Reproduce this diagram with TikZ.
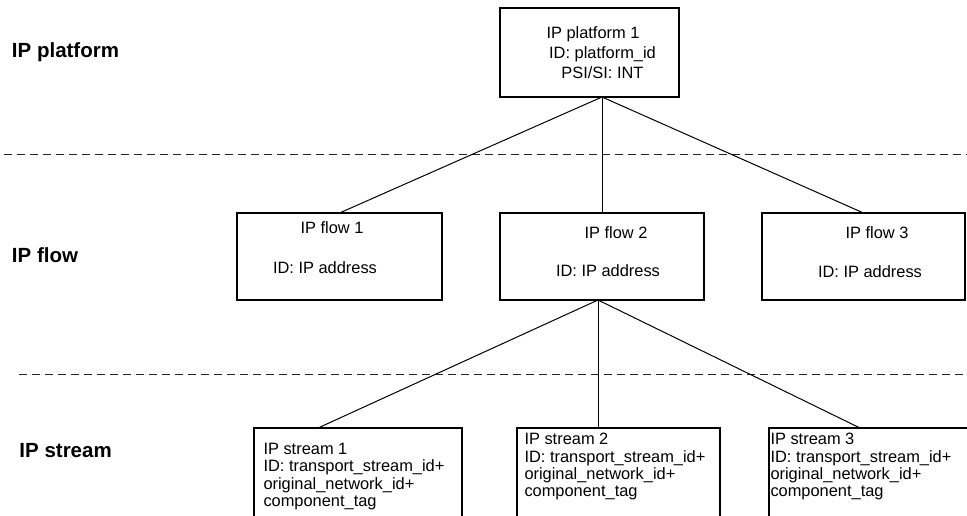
\documentclass[tikz,border=0pt]{standalone}
\usepackage{fontspec}
\setmainfont{Liberation Sans}
\begin{document}
\begin{tikzpicture}[x=1pt,y=-1pt,
  box/.style={draw=black, line width=1.2pt, inner sep=0pt, outer sep=0pt, anchor=north west},
  conn/.style={draw=black, line width=1pt},
  sepline/.style={draw=black!85, line width=0.9pt, dash pattern=on 8pt off 5pt},
  txt/.style={inner sep=0pt, outer sep=0pt, font=\fontsize{16.4}{20}\selectfont},
  stxt/.style={inner sep=0pt, outer sep=0pt, align=left, anchor=north west, font=\fontsize{16.4}{17.3}\selectfont},
  lvl/.style={inner sep=0pt, outer sep=0pt, anchor=base west, font=\fontsize{20.5}{24}\selectfont\bfseries}]
\useasboundingbox (0,0) rectangle (967,515);
\clip (0,0) rectangle (967,515);

% level separators
\draw[sepline] (4,154) -- (967,154);
\draw[sepline] (19,374) -- (967,374);

% level labels
\node[lvl] (lplat) at (12,57) {IP platform};
\node[lvl] (lflow) at (12,262) {IP flow};
\node[lvl] (lstream) at (19.5,457.5) {IP stream};

% boxes
\node[box, minimum width=179pt, minimum height=89pt] (plat) at (500,8) {};
\node[box, minimum width=205pt, minimum height=87pt] (f1) at (237,213) {};
\node[box, minimum width=204pt, minimum height=87pt] (f2) at (500,213) {};
\node[box, minimum width=203pt, minimum height=87pt] (f3) at (762,213) {};
\node[box, minimum width=208pt, minimum height=120pt] (s1) at (254,428) {};
\node[box, minimum width=203pt, minimum height=120pt] (s2) at (517,428) {};
\node[box, minimum width=220pt, minimum height=120pt] (s3) at (769,428) {};

% texts
\node[txt, align=center, anchor=north] (ptext) at (602.5,26.7) {IP platform 1\hspace*{19pt}\\ID: platform\_id\\PSI/SI: INT};
\node[txt] (f1a) at (332,227.5) {IP flow 1};
\node[txt] (f1b) at (325,268) {ID: IP address};
\node[txt] (f2a) at (616,233) {IP flow 2};
\node[txt] (f2b) at (608,271) {ID: IP address};
\node[txt] (f3a) at (877,233) {IP flow 3};
\node[txt] (f3b) at (870,272) {ID: IP address};
\node[stxt] (s1t) at (263.5,443.3) {IP stream 1\\ID: transport\_stream\_id+\\original\_network\_id+\\component\_tag};
\node[stxt] (s2t) at (524.5,433.3) {IP stream 2\\ID: transport\_stream\_id+\\original\_network\_id+\\component\_tag};
\node[stxt] (s3t) at (770.5,433.3) {IP stream 3\\ID: transport\_stream\_id+\\original\_network\_id+\\component\_tag};

% connectors
\coordinate (po) at (plat.south -| f2.north);
\draw[conn] (po) -- (f1.north);
\draw[conn] (po) -- (f2.north);
\draw[conn] (po) -- (f3.north);
\coordinate (fo) at ([xshift=-4pt]f2.south);
\draw[conn] (fo) -- ([xshift=64pt]s1.north west);
\draw[conn] (fo) -- ([xshift=81pt]s2.north west);
\draw[conn] (fo) -- ([xshift=91pt]s3.north west);
\end{tikzpicture}
\end{document}
